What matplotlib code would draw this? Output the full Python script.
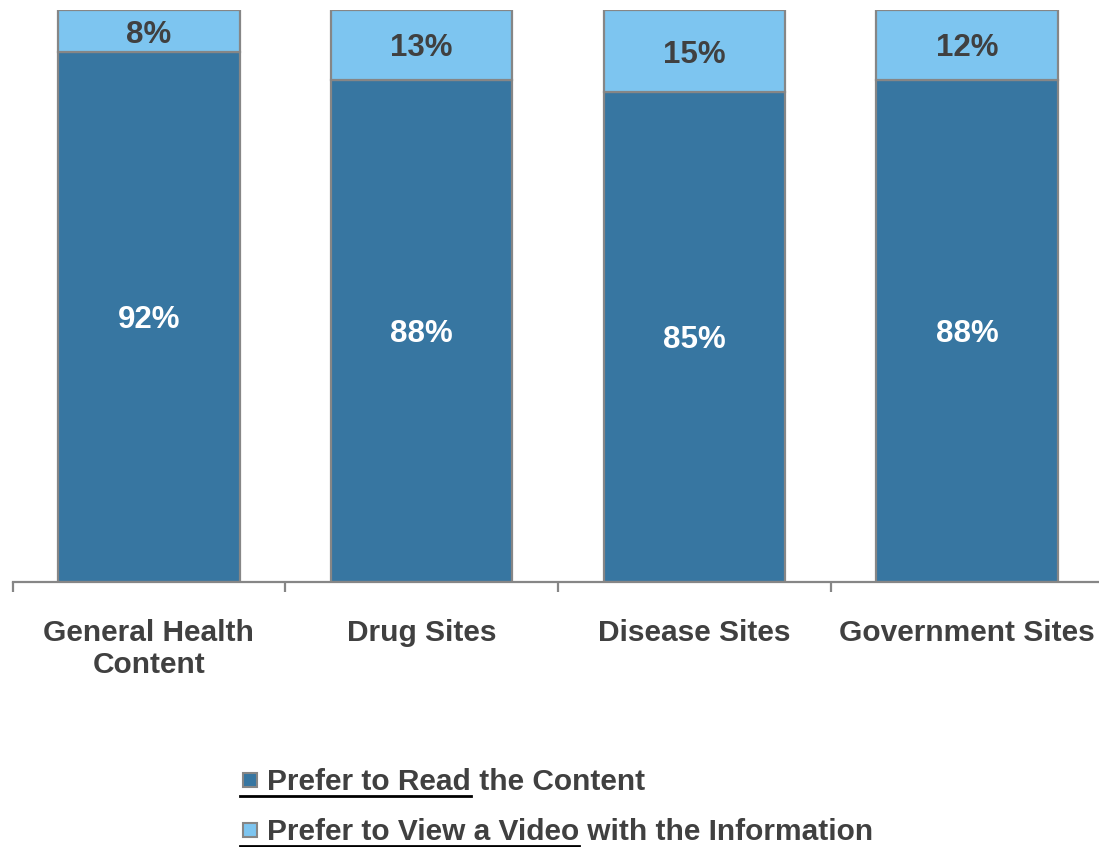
import matplotlib
matplotlib.use("Agg")
import matplotlib.pyplot as plt
from matplotlib.patches import Rectangle
from matplotlib.lines import Line2D

categories = ["General Health\nContent", "Drug Sites", "Disease Sites", "Government Sites"]
read_vals = [92.6, 87.8, 85.6, 87.8]
video_vals = [7.4, 12.2, 14.4, 12.2]
read_labels = ["92%", "88%", "85%", "88%"]
video_labels = ["8%", "13%", "15%", "12%"]
series_names = [("Prefer to Read", " the Content"),
                ("Prefer to View a Video", " with the Information")]

DARK = "#3776A1"
LIGHT = "#7DC5F0"
EDGE = "#868686"
TXT = "#404040"
FONT = "Liberation Sans"

W, H = 1099, 847
fig = plt.figure(figsize=(W / 100, H / 100), dpi=100)

def fx(px):
    return px / W

def fy(py):
    return 1 - py / H

ax_left, ax_right = 12.5, 1103.5
ax_top, ax_bot = 10, 581.5
ax = fig.add_axes([fx(ax_left), fy(ax_bot), (ax_right - ax_left) / W, (ax_bot - ax_top) / H])

x = list(range(len(categories)))
ax.bar(x, read_vals, width=0.665, color=DARK, edgecolor=EDGE, linewidth=1.6, zorder=2)
ax.bar(x, video_vals, bottom=read_vals, width=0.665, color=LIGHT, edgecolor=EDGE,
       linewidth=1.6, zorder=2)

for i in x:
    ax.text(i, read_vals[i] / 2, read_labels[i], ha="center", va="center_baseline",
            color="white", fontsize=22.5, fontweight="bold", family=FONT)
    ax.text(i, read_vals[i] + video_vals[i] / 2, video_labels[i], ha="center",
            va="center_baseline", color=TXT, fontsize=22.5, fontweight="bold", family=FONT)

ax.set_xlim(-0.5, len(categories) - 0.5)
ax.set_ylim(0, 100)
for s in ["top", "right", "left"]:
    ax.spines[s].set_visible(False)
ax.spines["bottom"].set_color(EDGE)
ax.spines["bottom"].set_linewidth(1.6)
ax.set_yticks([])
ax.set_xticks(x)
ax.set_xticklabels(categories, fontsize=21.5, fontweight="bold", family=FONT,
                   color=TXT, linespacing=1.2)
ax.tick_params(axis="x", which="major", length=0, pad=27)
ax.set_xticks([i - 0.5 for i in range(len(categories) + 1)], minor=True)
ax.tick_params(axis="x", which="minor", length=7, width=1.6, color=EDGE, direction="out")

# Legend (manual, with underlined series names)
baselines = [790, 840]
colors = [DARK, LIGHT]
fig.canvas.draw()
renderer = fig.canvas.get_renderer()
for (name, rest), by, c in zip(series_names, baselines, colors):
    fig.patches.append(Rectangle((fx(243), fy(by - 3)), 14 / W, 14 / H,
                                 transform=fig.transFigure, facecolor=c,
                                 edgecolor=EDGE, linewidth=1.5))
    t1 = fig.text(fx(267), fy(by), name, ha="left", va="baseline", fontsize=21.5,
                  fontweight="bold", family=FONT, color=TXT)
    bb = t1.get_window_extent(renderer)
    x_end = bb.x1
    fig.lines.append(Line2D([fx(240), x_end / W], [fy(by + 5.5), fy(by + 5.5)],
                            transform=fig.transFigure, color="black", linewidth=2))
    fig.text(x_end / W, fy(by), rest, ha="left", va="baseline", fontsize=21.5,
             fontweight="bold", family=FONT, color=TXT)

fig.savefig("out.png", dpi=100)
